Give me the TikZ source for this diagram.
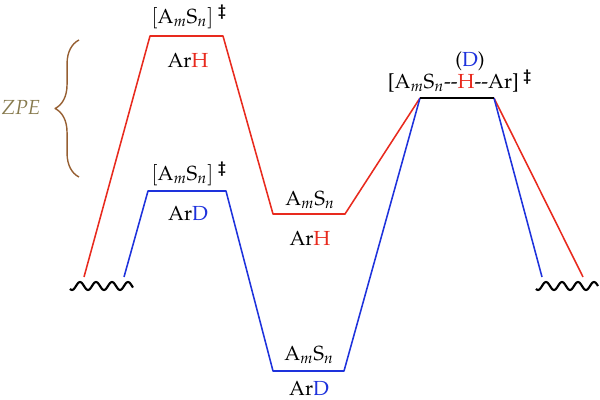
\documentclass[tikz,border=0pt]{standalone}
\usepackage[T1]{fontenc}
\usepackage{mathpazo}
\usepackage{amsmath}
\usetikzlibrary{decorations.pathreplacing}

\definecolor{hred}{RGB}{232,42,30}
\definecolor{dblue}{RGB}{30,50,220}
\definecolor{bracebrown}{RGB}{150,95,50}
\definecolor{zpeolive}{RGB}{135,122,78}

\begin{document}
\begin{tikzpicture}[x=0.025cm, y=-0.025cm, line join=round,
  lvl/.style={line width=1.1pt},
  lab/.style={font=\fontsize{14.5}{17}\selectfont, inner sep=0pt},
  wave/.style={line width=1.5pt, black}]

\useasboundingbox (0,0) rectangle (600,400);

% levels, H side
\coordinate (hL) at (84,277);
\coordinate (htsL) at (150,36);
\coordinate (htsR) at (223,36);
\coordinate (hintL) at (273,214);
\coordinate (hintR) at (345,214);
% levels, D side
\coordinate (dL) at (124,277);
\coordinate (dtsL) at (148,191);
\coordinate (dtsR) at (226,191);
\coordinate (dintL) at (273,371);
\coordinate (dintR) at (344,371);
% shared transition state
\coordinate (tsL) at (420,98);
\coordinate (tsR) at (494,98);
\coordinate (hR) at (583,277);
\coordinate (dR) at (542,277);

\draw[lvl, hred] (hL) -- (htsL) -- (htsR) -- (hintL) -- (hintR) -- (tsL);
\draw[lvl, hred] (tsR) -- (hR);
\draw[lvl, dblue] (dL) -- (dtsL) -- (dtsR) -- (dintL) -- (dintR) -- (tsL);
\draw[lvl, dblue] (tsR) -- (dR);
\draw[lvl, black] (tsL) -- (tsR);

% broken ends
\draw[wave] plot[domain=70:133, samples=90, smooth] (\x, {286-4*cos((\x-80)*22.5)});
\draw[wave] plot[domain=536:598, samples=90, smooth] (\x, {286-4*cos((\x-546)*22.5)});

% labels
\node[lab] (htsA) at (189,17) {$[\mathrm{A}_m\mathrm{S}_n]^{\;\boldsymbol{\ddagger}}$};
\node[lab] (htsB) at (188,60) {Ar\textcolor{hred}{H}};
\node[lab] (dtsA) at (189,174) {$[\mathrm{A}_m\mathrm{S}_n]^{\;\boldsymbol{\ddagger}}$};
\node[lab] (dtsB) at (188,213) {Ar\textcolor{dblue}{D}};
\node[lab] (hintA) at (310,200) {A$_m$S$_n$};
\node[lab] (hintB) at (310,238) {Ar\textcolor{hred}{H}};
\node[lab] (dintA) at (309,355) {A$_m$S$_n$};
\node[lab] (dintB) at (309,388) {Ar\textcolor{dblue}{D}};
\node[lab] (tsA) at (460,81) {[A$_m$S$_n${-}{-}\textcolor{hred}{H}{-}{-}Ar]$^{\;\boldsymbol{\ddagger}}$};
\node[lab] (tsB) at (470,61) {(\textcolor{dblue}{D})};

% zero point energy gap
\coordinate (zpeB) at (79,177);
\coordinate (zpeT) at (79,40);
\draw[bracebrown, line width=1pt, decorate, decoration={brace, amplitude=17pt}] (zpeB) -- (zpeT);
\node[lab, zpeolive] (zpe) at (21,108) {\textit{ZPE}};

\end{tikzpicture}
\end{document}
